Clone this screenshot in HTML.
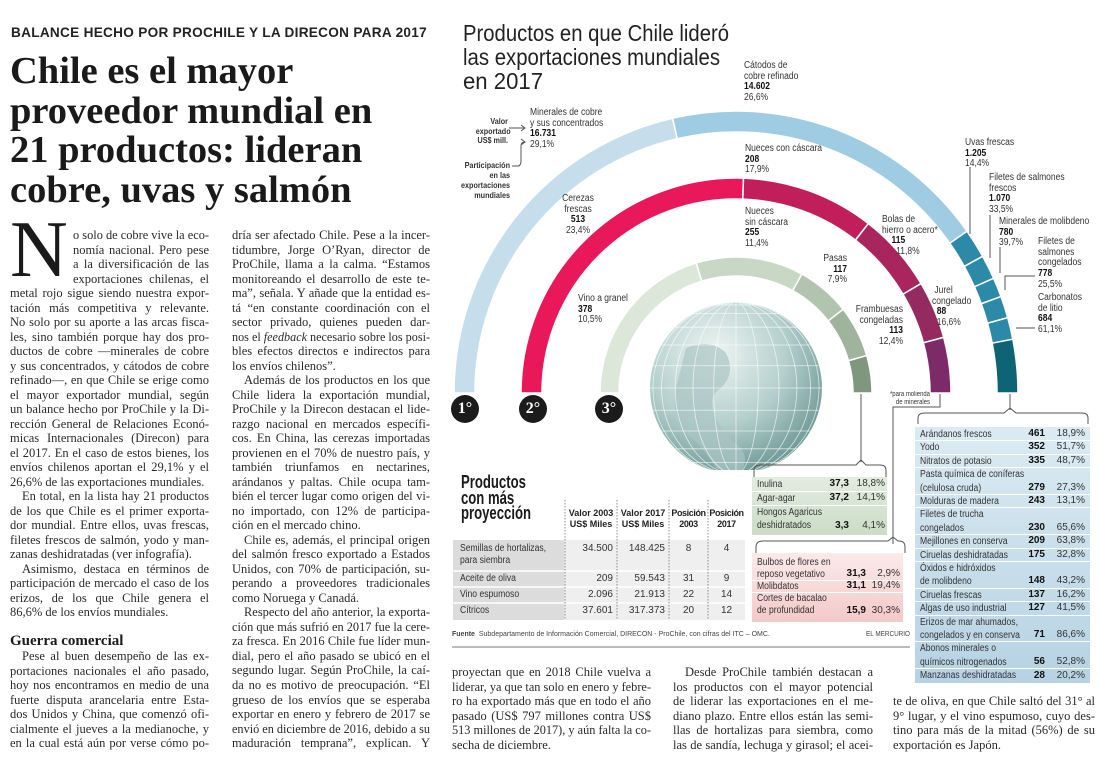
<!DOCTYPE html>
<html lang="es"><head><meta charset="utf-8">
<style>
*{margin:0;padding:0;box-sizing:border-box}
body{width:1100px;height:764px;position:relative;overflow:hidden;background:#fff;color:#222;font-family:"Liberation Serif",serif}
.abs{position:absolute}
.kicker{left:11px;top:25px;font:bold 14px/14px "Liberation Sans",sans-serif;color:#222;letter-spacing:.3px}
.hl{left:10px;font:bold 38.5px/39.5px "Liberation Serif",serif;color:#1a1a1a;white-space:nowrap}
.col{position:absolute;font-size:12.5px;line-height:14.53px;color:#2a2a2a}
.l{height:14.53px;white-space:nowrap}
.i{margin-left:12px}
.dc{margin-left:63px}
.drop{left:10px;top:210px;font:80px/80px "Liberation Serif",serif;color:#1a1a1a}
.sub{font:bold 15px/15px "Liberation Serif",serif;color:#1a1a1a}
.sans{font-family:"Liberation Sans Narrow","Liberation Sans",sans-serif}
.lab{position:absolute;font-family:"Liberation Sans Narrow","Liberation Sans",sans-serif;font-size:10px;line-height:10.7px;color:#333;white-space:nowrap;transform:scaleX(.85);transform-origin:0 0}
.lab.r{transform-origin:100% 0}
.lab b{color:#111}
.r{text-align:right}
.ttl{left:463px;font:23px/23.5px "Liberation Sans",sans-serif;color:#222;white-space:nowrap}
.num{position:absolute;width:28px;height:28px;border-radius:50%;background:#1b1b1b;color:#fff;font:bold 16px/28px "Liberation Serif",serif;text-align:center}
.tb{position:absolute;font-family:"Liberation Sans Narrow","Liberation Sans",sans-serif;font-size:10px;color:#333}
.row{position:absolute;left:0;right:0;white-space:nowrap}
.row span{position:absolute}
.row span.nm{transform:scaleX(.86);transform-origin:0 0}
</style></head><body>

<div class="abs kicker fit" data-w="416">BALANCE HECHO POR PROCHILE Y LA DIRECON PARA 2017</div>
<div class="abs hl fit" style="top:52px" data-w="288">Chile es el mayor</div>
<div class="abs hl fit" style="top:91.5px" data-w="366">proveedor mundial en</div>
<div class="abs hl fit" style="top:131px" data-w="353">21 productos: lideran</div>
<div class="abs hl fit" style="top:170.5px" data-w="342">cobre, uvas y salmón</div>

<div class="abs drop">N</div>
<div class="col" style="left:10px;top:228px;width:199px" data-w="199">
<div class="l dc j" data-w="136">o solo de cobre vive la eco-</div>
<div class="l dc j" data-w="136">nomía nacional. Pero pese</div>
<div class="l dc j" data-w="136">a la diversificación de las</div>
<div class="l dc j" data-w="136">exportaciones chilenas, el</div>
<div class="l j">metal rojo sigue siendo nuestra expor-</div>
<div class="l j">tación más competitiva y relevante.</div>
<div class="l j">No solo por su aporte a las arcas fisca-</div>
<div class="l j">les, sino también porque hay dos pro-</div>
<div class="l j">ductos de cobre —minerales de cobre</div>
<div class="l j">y sus concentrados, y cátodos de cobre</div>
<div class="l j">refinado—, en que Chile se erige como</div>
<div class="l j">el mayor exportador mundial, según</div>
<div class="l j">un balance hecho por ProChile y la Di-</div>
<div class="l j">rección General de Relaciones Econó-</div>
<div class="l j">micas Internacionales (Direcon) para</div>
<div class="l j">el 2017. En el caso de estos bienes, los</div>
<div class="l j">envíos chilenos aportan el 29,1% y el</div>
<div class="l">26,6% de las exportaciones mundiales.</div>
<div class="l i j">En total, en la lista hay 21 productos</div>
<div class="l j">de los que Chile es el primer exporta-</div>
<div class="l j">dor mundial. Entre ellos, uvas frescas,</div>
<div class="l j">filetes frescos de salmón, yodo y man-</div>
<div class="l">zanas deshidratadas (ver infografía).</div>
<div class="l i j">Asimismo, destaca en términos de</div>
<div class="l j">participación de mercado el caso de los</div>
<div class="l j">erizos, de los que Chile genera el</div>
<div class="l">86,6% de los envíos mundiales.</div>
</div>
<div class="abs sub" style="left:10px;top:634px">Guerra comercial</div>
<div class="col" style="left:10px;top:649px;width:199px;line-height:14.67px" data-w="199">
<div class="l i j">Pese al buen desempeño de las ex-</div>
<div class="l j">portaciones nacionales el año pasado,</div>
<div class="l j">hoy nos encontramos en medio de una</div>
<div class="l j">fuerte disputa arancelaria entre Esta-</div>
<div class="l j">dos Unidos y China, que comenzó ofi-</div>
<div class="l j">cialmente el jueves a la medianoche, y</div>
<div class="l j">en la cual está aún por verse cómo po-</div>
</div>

<div class="col" style="left:232px;top:228px;width:198px" data-w="198">
<div class="l j">dría ser afectado Chile. Pese a la incer-</div>
<div class="l j">tidumbre, Jorge O’Ryan, director de</div>
<div class="l j">ProChile, llama a la calma. “Estamos</div>
<div class="l j">monitoreando el desarrollo de este te-</div>
<div class="l j">ma”, señala. Y añade que la entidad es-</div>
<div class="l j">tá “en constante coordinación con el</div>
<div class="l j">sector privado, quienes pueden dar-</div>
<div class="l j">nos el <i>feedback</i> necesario sobre los posi-</div>
<div class="l j">bles efectos directos e indirectos para</div>
<div class="l">los envíos chilenos”.</div>
<div class="l i j">Además de los productos en los que</div>
<div class="l j">Chile lidera la exportación mundial,</div>
<div class="l j">ProChile y la Direcon destacan el lide-</div>
<div class="l j">razgo nacional en mercados específi-</div>
<div class="l j">cos. En China, las cerezas importadas</div>
<div class="l j">provienen en el 70% de nuestro país, y</div>
<div class="l j">también triunfamos en nectarines,</div>
<div class="l j">arándanos y paltas. Chile ocupa tam-</div>
<div class="l j">bién el tercer lugar como origen del vi-</div>
<div class="l j">no importado, con 12% de participa-</div>
<div class="l">ción en el mercado chino.</div>
<div class="l i j">Chile es, además, el principal origen</div>
<div class="l j">del salmón fresco exportado a Estados</div>
<div class="l j">Unidos, con 70% de participación, su-</div>
<div class="l j">perando a proveedores tradicionales</div>
<div class="l">como Noruega y Canadá.</div>
<div class="l i j">Respecto del año anterior, la exporta-</div>
<div class="l j">ción que más sufrió en 2017 fue la cere-</div>
<div class="l j">za fresca. En 2016 Chile fue líder mun-</div>
<div class="l j">dial, pero el año pasado se ubicó en el</div>
<div class="l j">segundo lugar. Según ProChile, la caí-</div>
<div class="l j">da no es motivo de preocupación. “El</div>
<div class="l j">grueso de los envíos que se esperaba</div>
<div class="l j">exportar en enero y febrero de 2017 se</div>
<div class="l j">envió en diciembre de 2016, debido a su</div>
<div class="l j">maduración temprana”, explican. Y</div>
</div>

<div class="col" style="left:452px;top:665px;width:199px" data-w="199">
<div class="l j">proyectan que en 2018 Chile vuelva a</div>
<div class="l j">liderar, ya que tan solo en enero y febre-</div>
<div class="l j">ro ha exportado más que en todo el año</div>
<div class="l j">pasado (US$ 797 millones contra US$</div>
<div class="l j">513 millones de 2017), y aún falta la co-</div>
<div class="l">secha de diciembre.</div>
</div>
<div class="col" style="left:673px;top:665px;width:200px" data-w="200">
<div class="l i j">Desde ProChile también destacan a</div>
<div class="l j">los productos con el mayor potencial</div>
<div class="l j">de liderar las exportaciones en el me-</div>
<div class="l j">diano plazo. Entre ellos están las semi-</div>
<div class="l j">llas de hortalizas para siembra, como</div>
<div class="l j">las de sandía, lechuga y girasol; el acei-</div>
</div>
<div class="col" style="left:893px;top:694px;width:202px" data-w="202">
<div class="l j">te de oliva, en que Chile saltó del 31° al</div>
<div class="l j">9° lugar, y el vino espumoso, cuyo des-</div>
<div class="l j">tino para más de la mitad (56%) de su</div>
<div class="l">exportación es Japón.</div>
</div>

<!-- Infographic shapes -->
<svg class="abs" style="left:0;top:0" width="1100" height="764">
<defs>
<radialGradient id="gg" cx="0.38" cy="0.3" r="0.75">
<stop offset="0" stop-color="#eef5f3"/><stop offset="0.55" stop-color="#b4cfcc"/><stop offset="1" stop-color="#6a9592"/></radialGradient>
<clipPath id="gc"><rect x="600" y="280" width="300" height="190"/></clipPath>
<linearGradient id="bt" x1="0" y1="0" x2="0" y2="1"><stop offset="0" stop-color="#dcebf3"/><stop offset="1" stop-color="#b6d2e3"/></linearGradient>
<linearGradient id="pk" x1="0" y1="0" x2="0" y2="1"><stop offset="0" stop-color="#fbeaea"/><stop offset="1" stop-color="#f3c9c9"/></linearGradient>
<linearGradient id="gn" x1="0" y1="0" x2="0" y2="1"><stop offset="0" stop-color="#e3ece0"/><stop offset="1" stop-color="#cbdcc7"/></linearGradient>
</defs>
<g id="globe" clip-path="url(#gc)"></g>
<g id="rings"></g>
<g fill="none" stroke="#555" stroke-width="1">
<path d="M509 128 H524 M521 125 L525 128 L521 131"/>
<path d="M512 166 H518 Q521 166 521 160 V146 Q521 142 525 142 M521 139 L525 142 L521 145"/>
<path d="M970 167 V234 M990 215 V258 M1000 247 V273 M1035 276 H1005 V290 M1035 328 H1016"/>
<path d="M1010 394 V410 M918 424 V418 Q918 413 925 413 H1004 L1010 408 L1016 413 H1082 Q1088 413 1088 418 V424"/>
<path d="M940 394 V407 H893 V544 M756 553 V547 Q756 541 763 541 H888 L893 537 L898 541 H899 Q905 541 905 547 V553"/>
<path d="M861 394 V462 M754 477 V470 Q754 465 761 465 H856 L861 460 L866 465 H880 Q886 465 886 470 V477"/>
</g>
<rect x="752" y="477" width="135" height="58" fill="url(#gn)"/>
<rect x="752" y="553" width="151" height="69" fill="url(#pk)"/>
<rect x="915" y="427" width="175" height="256" fill="url(#bt)"/>
<rect x="453" y="540" width="292" height="80" fill="#efefef"/>
<rect x="453" y="540" width="111" height="80" fill="#dcdcdc"/>
<g stroke="#fff" stroke-width="1.5"><path d="M453 571 H745 M453 587 H745 M453 603 H745"/></g>
<g stroke="#888" stroke-width="1" stroke-dasharray="1.5 1.5"><path d="M565 500 V620 M617 500 V620 M669 500 V620 M708 500 V620"/></g>
<path d="M452 647 H910" stroke="#bbb" stroke-width="2"/>
</svg>

<div class="abs ttl fit" style="top:22px" data-w="266">Productos en que Chile lideró</div>
<div class="abs ttl fit" style="top:46px" data-w="257">las exportaciones mundiales</div>
<div class="abs ttl fit" style="top:70px" data-w="80">en 2017</div>

<div class="num" style="left:451px;top:395px">1°</div>
<div class="num" style="left:519px;top:395px">2°</div>
<div class="num" style="left:595px;top:395px">3°</div>

<div class="lab" style="left:744px;top:61px">Cátodos de<br>cobre refinado<br><b>14.602</b><br>26,6%</div>
<div class="lab" style="left:530px;top:108px">Minerales de cobre<br>y sus concentrados<br><b>16.731</b><br>29,1%</div>
<div class="lab r" style="left:470px;top:117px;width:38px;font-size:8.5px;line-height:9.5px;font-weight:bold">Valor<br>exportado<br>US$ mill.</div>
<div class="lab r" style="left:440px;top:160px;width:70px;font-size:8.5px;line-height:10px;font-weight:bold">Participación<br>en las<br>exportaciones<br>mundiales</div>
<div class="lab" style="left:745px;top:144px">Nueces con cáscara<br><b>208</b><br>17,9%</div>
<div class="lab" style="left:965px;top:138px">Uvas frescas<br><b>1.205</b><br>14,4%</div>
<div class="lab" style="left:989px;top:173px">Filetes de salmones<br>frescos<br><b>1.070</b><br>33,5%</div>
<div class="lab" style="left:999px;top:217px">Minerales de molibdeno<br><b>780</b><br>39,7%</div>
<div class="lab" style="left:1038px;top:237px">Filetes de<br>salmones<br>congelados<br><b>778</b><br>25,5%</div>
<div class="lab" style="left:1038px;top:293px">Carbonatos<br>de litio<br><b>684</b><br>61,1%</div>
<div class="lab" style="left:558px;top:194px;width:40px;text-align:center;transform-origin:50% 0">Cerezas<br>frescas<br><b>513</b><br>23,4%</div>
<div class="lab" style="left:745px;top:207px">Nueces<br>sin cáscara<br><b>255</b><br>11,4%</div>
<div class="lab" style="left:882px;top:215px">Bolas de<br>hierro o acero*<br>&nbsp;&nbsp;&nbsp;&nbsp;<b>115</b><br>&nbsp;&nbsp;&nbsp;&nbsp;&nbsp;&nbsp;11,8%</div>
<div class="lab r" style="left:800px;top:254px;width:47px">Pasas<br><b>117</b><br>7,9%</div>
<div class="lab" style="left:932px;top:286px">&nbsp;Jurel<br>congelado<br>&nbsp;&nbsp;<b>88</b><br>&nbsp;&nbsp;16,6%</div>
<div class="lab r" style="left:840px;top:305px;width:63px">Frambuesas<br>congeladas<br><b>113</b><br>12,4%</div>
<div class="lab" style="left:578px;top:294px">Vino a granel<br><b>378</b><br>10,5%</div>
<div class="lab r" style="left:870px;top:391px;width:60px;font-size:7px;line-height:8px">*para molienda<br>de minerales</div>

<div class="abs fit sans" style="left:461px;top:475px;font:bold 18px/15.5px 'Liberation Sans Narrow','Liberation Sans',sans-serif;color:#1a1a1a" data-w="70">Productos<br>con más<br>proyección</div>

<div class="tb" style="left:453px;top:508px;width:292px;height:114px">
<div class="row" style="top:0;font-weight:bold;font-size:9px;line-height:11px;color:#222">
<span style="left:112px;width:52px;text-align:center">Valor 2003<br>US$ Miles</span>
<span style="left:164px;width:52px;text-align:center">Valor 2017<br>US$ Miles</span>
<span style="left:216px;width:39px;text-align:center;letter-spacing:-.4px">Posición<br>2003</span>
<span style="left:255px;width:37px;text-align:center;letter-spacing:-.4px">Posición<br>2017</span></div>
<div class="row" style="top:35px;line-height:12px"><span class="nm" style="left:7px">Semillas de hortalizas,<br>para siembra</span><span style="left:112px;width:48px;text-align:right">34.500</span><span style="left:164px;width:48px;text-align:right">148.425</span><span style="left:216px;width:39px;text-align:center">8</span><span style="left:255px;width:37px;text-align:center">4</span></div>
<div class="row" style="top:65px;line-height:12px"><span class="nm" style="left:7px">Aceite de oliva</span><span style="left:112px;width:48px;text-align:right">209</span><span style="left:164px;width:48px;text-align:right">59.543</span><span style="left:216px;width:39px;text-align:center">31</span><span style="left:255px;width:37px;text-align:center">9</span></div>
<div class="row" style="top:81px;line-height:12px"><span class="nm" style="left:7px">Vino espumoso</span><span style="left:112px;width:48px;text-align:right">2.096</span><span style="left:164px;width:48px;text-align:right">21.913</span><span style="left:216px;width:39px;text-align:center">22</span><span style="left:255px;width:37px;text-align:center">14</span></div>
<div class="row" style="top:97px;line-height:12px"><span class="nm" style="left:7px">Cítricos</span><span style="left:112px;width:48px;text-align:right">37.601</span><span style="left:164px;width:48px;text-align:right">317.373</span><span style="left:216px;width:39px;text-align:center">20</span><span style="left:255px;width:37px;text-align:center">12</span></div>
</div>
<div class="abs sans fit" style="left:452px;top:631px;font-size:7px;color:#444;white-space:nowrap" data-w="370"><b>Fuente</b>&nbsp; Subdepartamento de Información Comercial, DIRECON - ProChile, con cifras del ITC – OMC.</div>
<div class="abs sans fit" style="left:866px;top:631px;font-size:7px;color:#444" data-w="44">EL MERCURIO</div>

<div class="tb" id="greenBox" style="left:752px;top:477px;width:135px;height:58px"></div>
<div class="tb" id="pinkBox" style="left:752px;top:553px;width:151px;height:69px"></div>
<div class="tb" id="blueBox" style="left:915px;top:427px;width:175px;height:256px"></div>

<script>
// ---- ring data ----
const outerLabels=["Minerales de cobre","Cátodos de cobre refinado","Uvas frescas","Filetes de salmones frescos","Minerales de molibdeno","Filetes de salmones congelados","Carbonatos de litio","Otros"];
const outerValues=[16731,14602,1205,1070,780,778,684,0];
const outerSpans=[77,68,6,5,4,4.5,4.5,11];
const outerColors=["#c6deec","#9fcce3","#2c89a8","#2c89a8","#2c89a8","#2c89a8","#2c89a8","#0e6474"];
const middleLabels=["Cerezas frescas","Nueces sin cáscara","Bolas de hierro o acero","Jurel congelado","Otros"];
const middleValues=[513,255,115,88,0];
const middleSpans=[92,36,21.4,15.6,15];
const middleColors=["#e8185a","#c11f5b","#a8265d","#952a60","#7c2b68"];
const innerLabels=["Vino a granel","Pasas","Frambuesas congeladas","Otros","Otros 2"];
const innerValues=[378,117,113,0,0];
const innerSpans=[73,46,23,22,16];
const innerColors=["#dce7da","#c8d8c5","#b2c4af","#a0b39d","#7f977e"];
// green, pink and blue box data
const greenNames=["Inulina","Agar-agar","Hongos Agaricus<br>deshidratados"];
const greenValues=["37,3","37,2","3,3"];
const greenShares=["18,8%","14,1%","4,1%"];
const pinkNames=["Bulbos de flores en<br>reposo vegetativo","Molibdatos","Cortes de bacalao<br>de profundidad"];
const pinkValues=["31,3","31,1","15,9"];
const pinkShares=["2,9%","19,4%","30,3%"];
const blueNames=["Arándanos frescos","Yodo","Nitratos de potasio","Pasta química de coníferas<br>(celulosa cruda)","Molduras de madera","Filetes de trucha<br>congelados","Mejillones en conserva","Ciruelas deshidratadas","Óxidos e hidróxidos<br>de molibdeno","Ciruelas frescas","Algas de uso industrial","Erizos de mar ahumados,<br>congelados y en conserva","Abonos minerales o<br>químicos nitrogenados","Manzanas deshidratadas"];
const blueValues=["461","352","335","279","243","230","209","175","148","137","127","71","56","28"];
const blueShares=["18,9%","51,7%","48,7%","27,3%","13,1%","65,6%","63,8%","32,8%","43,2%","16,2%","41,5%","86,6%","52,8%","20,2%"];

const NS="http://www.w3.org/2000/svg";
const CX=736,CY=393;
function pt(r,a){const t=a*Math.PI/180;return [CX+r*Math.cos(t),CY-r*Math.sin(t)];}
function sector(r0,r1,a0,a1){const p1=pt(r1,a0),p2=pt(r1,a1),p3=pt(r0,a1),p4=pt(r0,a0);
return `M${p1[0]} ${p1[1]} A${r1} ${r1} 0 0 1 ${p2[0]} ${p2[1]} L${p3[0]} ${p3[1]} A${r0} ${r0} 0 0 0 ${p4[0]} ${p4[1]}Z`;}
function ring(spans,colors,labels,r0,r1,name){
  const g=document.getElementById('rings');let a=180;
  spans.forEach((s,i)=>{const p=document.createElementNS(NS,'path');
    p.setAttribute('d',sector(r0,r1,a,a-s));p.setAttribute('fill',colors[i]);
    p.setAttribute('stroke','#fff');p.setAttribute('stroke-width','1.5');
    
    
    g.appendChild(p);a-=s;});
}
ring(outerSpans,outerColors,outerLabels,261,282,'outer-ring');
ring(middleSpans,middleColors,middleLabels,194,215,'middle-ring');
ring(innerSpans,innerColors,innerLabels,117,136,'inner-ring');

// globe
(function(){const g=document.getElementById('globe');const gx=736,gy=388,R=86;
 let s=`<circle cx="${gx}" cy="${gy}" r="${R}" fill="url(#gg)"/>`;
 s+=`<path d="M${gx-50} ${gy-40} q25 -10 40 5 q10 20 -5 35 q-15 10 -5 30 q10 20 25 30 q10 15 -5 30 l-20 -10 q-15 -25 -30 -35 q-15 -20 -10 -45z" fill="#a9c5c3" opacity="0.7"/>`;
 s+=`<g fill="none" stroke="#fff" stroke-opacity="0.7" stroke-width="0.8">`;
 for(let k=1;k<6;k++){const rx=R*Math.sin(k*15*Math.PI/180);s+=`<ellipse cx="${gx}" cy="${gy}" rx="${rx}" ry="${R}"/>`;}
 s+=`<line x1="${gx}" y1="${gy-R}" x2="${gx}" y2="${gy+R}"/>`;
 for(let k=-5;k<=5;k++){const y=gy-R*Math.sin(k*15*Math.PI/180);const w=R*Math.cos(k*15*Math.PI/180);s+=`<line x1="${gx-w}" y1="${y}" x2="${gx+w}" y2="${y}"/>`;}
 s+=`</g>`;g.innerHTML=s;})();

function fillBox(id,names,vals,shares,lh,valRight,pctRight,lineColor,y0){
  const box=document.getElementById(id);let y=y0;
  names.forEach((n,i)=>{const two=n.indexOf('<br>')>=0;const h=two?lh*2:lh;
    const r=document.createElement('div');r.className='row';
    
    
    r.style.top=y+'px';r.style.height=h+'px';r.style.lineHeight=lh+'px';
    if(i<names.length-1)r.style.borderBottom='1px solid '+lineColor;
    r.innerHTML=`<span class="nm" style="left:5px;top:0">${n}</span><span style="right:${valRight}px;bottom:0;font-weight:bold;color:#111">${vals[i]}</span><span style="right:${pctRight}px;bottom:0">${shares[i]}</span>`;
    box.appendChild(r);y+=h;});
}
fillBox('greenBox',greenNames,greenValues,greenShares,13.8,38,2,'#fff',1);
fillBox('pinkBox',pinkNames,pinkValues,pinkShares,12,37,3,'#fff',4);
fillBox('blueBox',blueNames,blueValues,blueShares,13.4,45,5,'#fff',1);

// text fitting
document.querySelectorAll('.fit').forEach(el=>{const w=+el.dataset.w;el.style.display='inline-block';
  const nw=el.getBoundingClientRect().width;el.style.display='block';
  if(nw>w){el.style.width=nw+'px';el.style.transformOrigin='0 0';el.style.transform='scaleX('+(w/nw)+')';}});
document.querySelectorAll('.col').forEach(c=>{const cw=+c.dataset.w;
  c.querySelectorAll('.l').forEach(el=>{let w=el.dataset.w?+el.dataset.w:cw-(el.classList.contains('i')?12:0);
    el.style.display='inline-block';const nw=el.getBoundingClientRect().width;el.style.display='block';
    if(nw>w){el.style.width=nw+'px';el.style.transformOrigin='0 0';el.style.transform='scaleX('+(w/nw)+')';}
    else{el.style.width=w+'px';if(el.classList.contains('j')){el.style.textAlign='justify';el.style.textAlignLast='justify';}}});});
</script>
</body></html>
